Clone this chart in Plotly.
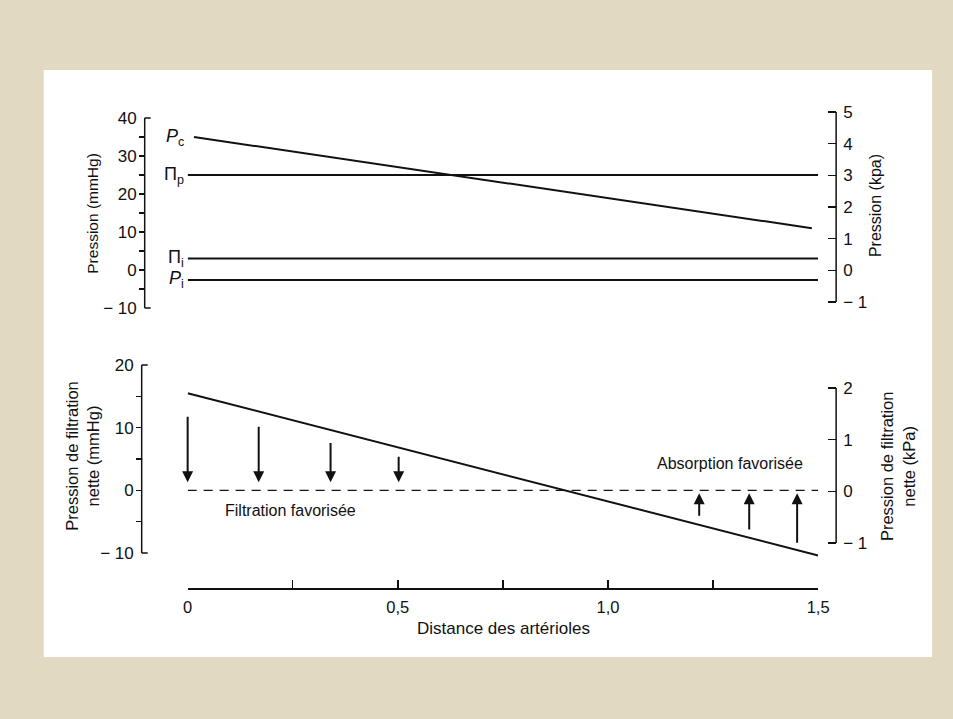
import plotly.graph_objects as go

# ---------------- data ----------------
distance = [0, 1.5]
pc_distance = [0.015, 1.485]
pc_mmhg = [35, 11]          # P_c
pi_p_mmhg = [25, 25]        # Π_p
pi_i_mmhg = [3, 3]          # Π_i
p_i_mmhg = [-2.6, -2.6]     # P_i
net_mmhg = [15.5, -10.4]    # net filtration pressure
zero_line = [0, 0]

down_x = [0, 0.169, 0.34, 0.502]
down_tail = [12.0, 10.4, 7.8, 5.6]
down_head = [1.3, 1.3, 1.3, 1.3]
up_x = [1.217, 1.336, 1.45]
up_tail = [-4.3, -6.5, -8.6]
up_head = [-0.45, -0.45, -0.45]

x_tickvals = [0, 0.5, 1.0, 1.5]
x_ticktext = ["0", "0,5", "1,0", "1,5"]
x_minor = [0.25, 0.75, 1.25]
top_left_ticks = [-10, 0, 10, 20, 30, 40]
top_left_text = ["\u2212 10", "0", "10", "20", "30", "40"]
top_left_minor = [-5, 0, 5, 10, 15, 20, 25, 30, 35]
top_right_ticks = [-1, 0, 1, 2, 3, 4, 5]
top_right_text = ["\u2212 1", "0", "1", "2", "3", "4", "5"]
bot_left_ticks = [-10, 0, 10, 20]
bot_left_text = ["\u2212 10", "0", "10", "20"]
bot_left_minor = [-5, 0, 5, 10, 15]
bot_right_ticks = [-1, 0, 1, 2]
bot_right_text = ["\u2212 1", "0", "1", "2"]

# ---------------- geometry helpers ----------------
W, H = 953, 719
# horizontal placement corrected for the observed rendering offset/scale
X_OFF, X_SCALE = 4.2, 0.984
def fx(p):
    return ((p - X_OFF) / X_SCALE) / W
def fy(p):
    return 1 - p / H
def rng(a, pa, b, pb, top, bottom):
    s = (b - a) / (pb - pa)
    return [a + (bottom - pa) * s, a + (top - pa) * s]

TOP_DOM = (100, 318)
BOT_DOM = (352, 568)

FONT = "Liberation Sans, Arial, sans-serif"
BLACK = "#111111"

fig = go.Figure()

line_style = dict(color=BLACK, width=2)
for yv, xv in [(pc_mmhg, pc_distance), (pi_p_mmhg, distance), (pi_i_mmhg, distance), (p_i_mmhg, distance)]:
    fig.add_trace(go.Scatter(x=xv, y=yv, mode="lines", line=line_style,
                             xaxis="x", yaxis="y", showlegend=False, hoverinfo="skip"))
fig.add_trace(go.Scatter(x=distance, y=net_mmhg, mode="lines", line=line_style,
                         xaxis="x", yaxis="y3", showlegend=False, hoverinfo="skip"))
fig.add_trace(go.Scatter(x=distance, y=zero_line, mode="lines",
                         line=dict(color=BLACK, width=1.4, dash="9px,7px"),
                         xaxis="x", yaxis="y3", showlegend=False, hoverinfo="skip"))
fig.add_trace(go.Scatter(x=[None], y=[None], xaxis="x", yaxis="y2", showlegend=False, hoverinfo="skip"))
fig.add_trace(go.Scatter(x=[None], y=[None], xaxis="x", yaxis="y4", showlegend=False, hoverinfo="skip"))

ytickfont = dict(family=FONT, size=17, color=BLACK)
xtickfont = dict(family=FONT, size=16.5, color=BLACK)
common_y = dict(showgrid=False, zeroline=False, showline=False, tickfont=ytickfont,
                tickmode="array", fixedrange=True)

fig.update_layout(
    width=W, height=H, autosize=False,
    margin=dict(l=0, r=0, t=0, b=0, pad=0),
    paper_bgcolor="#e2d9c3",
    plot_bgcolor="rgba(0,0,0,0)",
    showlegend=False,
    xaxis=dict(domain=[fx(187), fx(818)], range=[0, 1.5], anchor="free", position=fy(588),
               showgrid=False, zeroline=False, showline=True, linecolor=BLACK, linewidth=1.5,
               tickmode="array", tickvals=x_tickvals, ticktext=x_ticktext,
               ticks="inside", ticklen=8, tickwidth=1.5, tickcolor=BLACK,
               minor=dict(tickvals=x_minor, ticks="inside", ticklen=8, tickwidth=1.5,
                          tickcolor=BLACK),
               tickfont=xtickfont, ticklabelstandoff=4, fixedrange=True),
    yaxis=dict(**common_y, domain=[fy(TOP_DOM[1]), fy(TOP_DOM[0])],
               range=rng(40, 118, -10, 308, *TOP_DOM),
               anchor="free", position=fx(144), side="left",
               tickvals=top_left_ticks, ticktext=top_left_text, ticks="",
               ticklabelstandoff=8,
               minor=dict(tickvals=top_left_minor, ticks="outside", ticklen=6,
                          tickwidth=1.5, tickcolor=BLACK)),
    yaxis2=dict(**common_y, domain=[fy(TOP_DOM[1]), fy(TOP_DOM[0])],
                range=rng(5, 112, -1, 302, *TOP_DOM),
                anchor="free", position=fx(836), side="right",
                tickvals=top_right_ticks, ticktext=top_right_text,
                ticks="inside", ticklen=8, tickwidth=1.5, tickcolor=BLACK,
                ticklabelstandoff=6),
    yaxis3=dict(**common_y, domain=[fy(BOT_DOM[1]), fy(BOT_DOM[0])],
                range=rng(20, 365, -10, 553, *BOT_DOM),
                anchor="free", position=fx(141), side="left",
                tickvals=bot_left_ticks, ticktext=bot_left_text, ticks="",
                ticklabelstandoff=8,
                minor=dict(tickvals=bot_left_minor, ticks="outside", ticklen=6,
                           tickwidth=1.5, tickcolor=BLACK)),
    yaxis4=dict(**common_y, domain=[fy(BOT_DOM[1]), fy(BOT_DOM[0])],
                range=rng(2, 388, -1, 543, *BOT_DOM),
                anchor="free", position=fx(836), side="right",
                tickvals=bot_right_ticks, ticktext=bot_right_text,
                ticks="inside", ticklen=8, tickwidth=1.5, tickcolor=BLACK,
                ticklabelstandoff=6),
)

shapes = []
shapes.append(dict(type="rect", xref="paper", yref="paper", x0=fx(43), x1=fx(932),
                   y0=fy(657), y1=fy(70), fillcolor="white", line=dict(width=0), layer="below"))
spine = dict(color=BLACK, width=1.5)
def spine_with_caps(xpx, yref, lo, hi, caps):
    shapes.append(dict(type="line", xref="paper", yref=yref, x0=fx(xpx), x1=fx(xpx),
                       y0=lo, y1=hi, line=spine))
    if caps:
        for v in (lo, hi):
            shapes.append(dict(type="line", xref="paper", yref=yref, x0=fx(xpx), x1=fx(xpx + 6),
                               y0=v, y1=v, line=spine))
spine_with_caps(144, "y", top_left_ticks[0], top_left_ticks[-1], True)
spine_with_caps(836, "y2", top_right_ticks[0], top_right_ticks[-1], False)
spine_with_caps(141, "y3", bot_left_ticks[0], bot_left_ticks[-1], True)
spine_with_caps(836, "y4", bot_right_ticks[0], bot_right_ticks[-1], False)
fig.update_layout(shapes=shapes)

ann = []
lab_font = dict(family=FONT, size=18, color=BLACK)
for txt, yv in [("<i>P</i><sub>c</sub>", pc_mmhg[0]), ("\u03a0<sub>p</sub>", pi_p_mmhg[0]),
                ("\u03a0<sub>i</sub>", pi_i_mmhg[0]), ("<i>P</i><sub>i</sub>", p_i_mmhg[0])]:
    ann.append(dict(x=fx(185), y=yv, xref="paper", yref="y", text=txt, showarrow=False,
                    xanchor="right", yanchor="middle", font=lab_font))
for xs, tails, heads in [(down_x, down_tail, down_head), (up_x, up_tail, up_head)]:
    for xv, t, h in zip(xs, tails, heads):
        ann.append(dict(x=xv, y=h, ax=xv, ay=t, xref="x", yref="y3", axref="x", ayref="y3",
                        text="", showarrow=True, arrowhead=2, arrowsize=1.1, arrowwidth=2,
                        arrowcolor=BLACK))
mid_font = dict(family=FONT, size=16, color=BLACK)
ann.append(dict(x=0.245, y=-3.2, xref="x", yref="y3", text="Filtration favorisée",
                showarrow=False, font=mid_font, xanchor="center", yanchor="middle"))
ann.append(dict(x=1.29, y=4.3, xref="x", yref="y3", text="Absorption favorisée",
                showarrow=False, font=mid_font, xanchor="center", yanchor="middle"))
title_specs = [
    (92, 213, "Pression (mmHg)", -90, 15.5),
    (876, 206, "Pression (kpa)", -90, 16),
    (81, 456, "Pression de filtration<br>nette (mmHg)", -90, 16.5),
    (897, 466, "Pression de filtration<br>nette (kPa)", -90, 16.5),
    (503, 628, "Distance des artérioles", 0, 17),
]
for xp, yp, txt, ang, sz in title_specs:
    ann.append(dict(x=fx(xp), y=fy(yp), xref="paper", yref="paper", text=txt,
                    textangle=ang, showarrow=False,
                    font=dict(family=FONT, size=sz, color=BLACK),
                    xanchor="center", yanchor="middle"))
fig.update_layout(annotations=ann)

fig.write_html(
    "out.html",
    config={"displayModeBar": False, "responsive": False, "staticPlot": True},
    post_script="document.body.style.margin='0';document.body.style.padding='0';"
                "document.body.style.overflow='hidden';",
)
